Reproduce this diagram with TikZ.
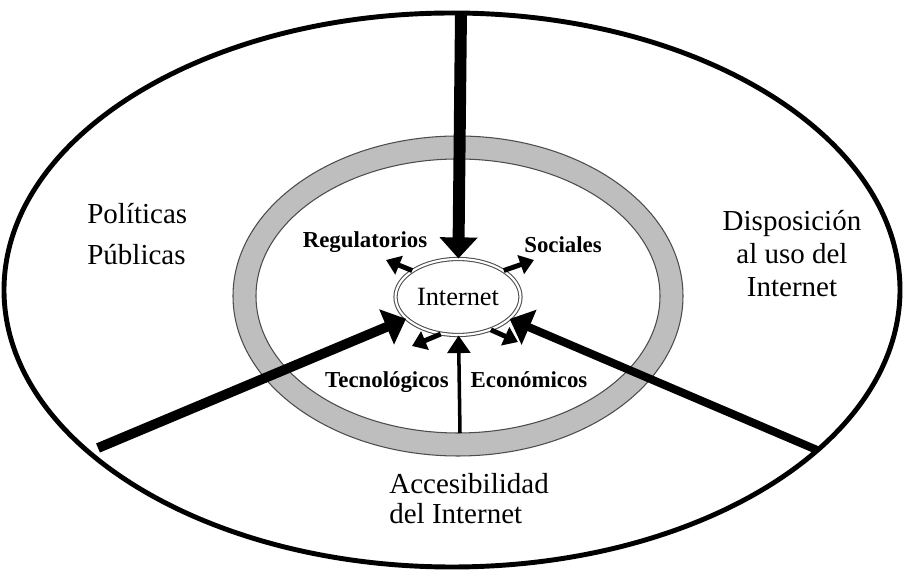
\documentclass[tikz,border=0pt]{standalone}
\usepackage{fontspec}
\setmainfont{Liberation Serif}
\usetikzlibrary{arrows.meta,shapes.geometric}

\definecolor{ringgray}{RGB}{190,190,190}

\begin{document}
\begin{tikzpicture}[x=0.02cm,y=-0.02cm,
  biglabel/.style={font=\fontsize{16.5}{18.8}\selectfont,inner sep=0pt},
  factor/.style={font=\fontsize{13}{15}\selectfont\bfseries,inner sep=0pt,anchor=base},
  mainarrow/.style={line width=#1,-{Triangle[width=21pt,length=12pt]}},
  smallarrow/.style={line width=2.8pt,-{Triangle[width=11pt,length=8pt]}}]

\useasboundingbox (0,0) rectangle (904,570);

%------------------------------------------------
% Outer ellipse and gray ring
%------------------------------------------------
\draw[line width=2.8pt] (452,290) ellipse [x radius=448, y radius=277];

\fill[ringgray,even odd rule] (458,296) ellipse [x radius=225, y radius=160]
  (458,296) ellipse [x radius=202, y radius=137];
\draw[black!70,line width=0.6pt] (458,296) ellipse [x radius=225, y radius=160];
\draw[black!70,line width=0.6pt] (458,296) ellipse [x radius=202, y radius=137];

%------------------------------------------------
% Internet
%------------------------------------------------
\node[ellipse,draw=black!70,double=white,double distance=1.2pt,line width=0.6pt,
  minimum width=2.5cm,minimum height=1.52cm,inner sep=0pt,
  font=\fontsize{15}{17}\selectfont] (inet) at (458,297) {Internet};

% Start points
\coordinate (topstart) at (461,13);
\coordinate (leftstart) at (98,448);
\coordinate (rightstart) at (817,450);
\coordinate (ringbottom) at (460,433);

\draw[mainarrow=6.8pt] (topstart) -- (inet);
\draw[mainarrow=5.6pt] (leftstart) -- (inet);
\draw[mainarrow=4.6pt] (rightstart) -- (inet);
\draw[line width=2pt,-{Triangle[width=13pt,length=10pt]}] (ringbottom) -- (inet);

% Outward arrows
\coordinate (nw) at (386,260);
\coordinate (ne) at (534,260);
\coordinate (sw) at (412,346);
\coordinate (se) at (518,342);

\draw[smallarrow] (inet.150) -- (nw);
\draw[smallarrow] (inet.30) -- (ne);
\draw[smallarrow] (inet.245) -- (sw);
\draw[smallarrow] (inet.-45) -- (se);

%------------------------------------------------
% Labels
%------------------------------------------------
\node[factor] (regul) at (365,248) {Regulatorios};
\node[factor] (soc) at (563,253) {Sociales};
\node[factor] (tecno) at (387,388) {Tecnológicos};
\node[factor] (econ) at (529,388) {Económicos};

\node[biglabel,align=left,anchor=north west,
  font=\fontsize{16.5}{23.3}\selectfont] (polit) at (87,203) {Políticas\\Públicas};
\node[biglabel,align=center,anchor=north] (dispo) at (792,210) {Disposición\\al uso del\\Internet};
\node[biglabel,align=left,anchor=north west,
  font=\fontsize{16.5}{17}\selectfont] (acces) at (389,473) {Accesibilidad\\del Internet};

\end{tikzpicture}
\end{document}
